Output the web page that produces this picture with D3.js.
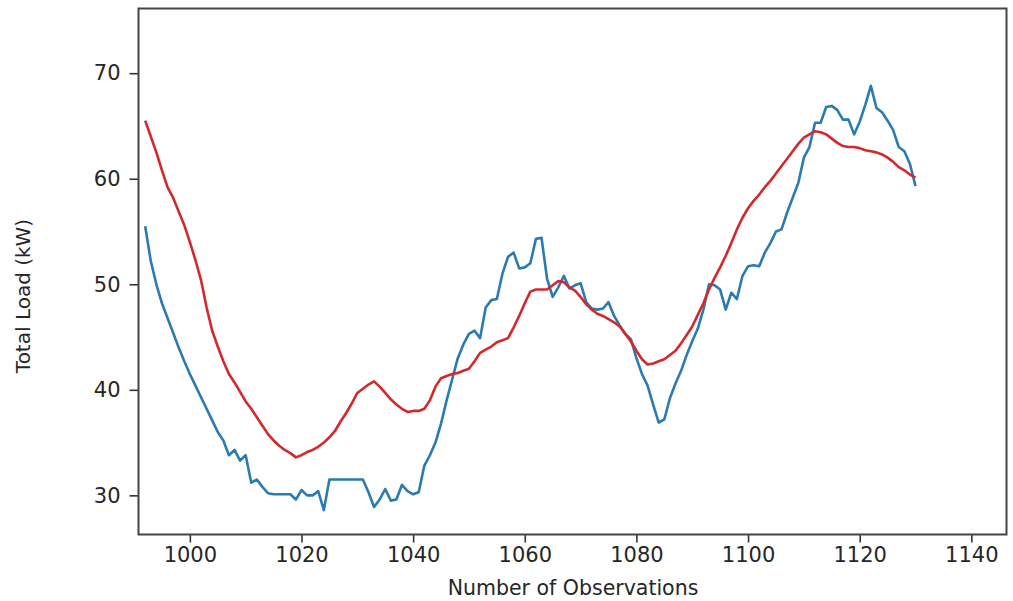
<!DOCTYPE html>
<html>
<head>
<meta charset="utf-8">
<script src="https://cdn.jsdelivr.net/npm/d3@7"></script>
<style>
  html, body { margin: 0; padding: 0; background: #fff; }
  svg text { font-family: "DejaVu Sans", sans-serif; fill: #262626; }
</style>
</head>
<body>
<svg id="chart" width="1013" height="601"></svg>
<script>
// ---- data ----
const xStart = 992;
const actualLoad = [
  55.5, 52.2, 50.0, 48.2, 46.8, 45.4, 44.0, 42.7,            // 992-999
  41.5, 40.4, 39.3, 38.2, 37.1, 36.0, 35.2, 33.8, 34.3, 33.3, // 1000-1009
  33.8, 31.2, 31.5, 30.8, 30.2, 30.1, 30.1, 30.1, 30.1, 29.6, // 1010-1019
  30.5, 30.0, 30.0, 30.4, 28.6, 31.5, 31.5, 31.5, 31.5, 31.5, // 1020-1029
  31.5, 31.5, 30.3, 28.9, 29.6, 30.6, 29.5, 29.6, 31.0, 30.4, // 1030-1039
  30.1, 30.3, 32.8, 33.8, 35.0, 36.8, 39.0, 41.0, 43.0, 44.3, // 1040-1049
  45.3, 45.6, 44.9, 47.8, 48.5, 48.6, 51.0, 52.6, 53.0, 51.5, // 1050-1059
  51.6, 52.0, 54.3, 54.4, 50.5, 48.8, 49.7, 50.8, 49.6, 49.9, // 1060-1069
  50.1, 48.3, 47.7, 47.6, 47.7, 48.3, 47.0, 46.1, 45.3, 44.8, // 1070-1079
  43.0, 41.5, 40.4, 38.6, 36.9, 37.2, 39.2, 40.6, 41.8, 43.3, // 1080-1089
  44.6, 45.8, 47.6, 50.0, 49.9, 49.5, 47.6, 49.2, 48.6, 50.8, // 1090-1099
  51.7, 51.8, 51.7, 53.0, 53.9, 55.0, 55.2, 56.8, 58.2, 59.6, // 1100-1109
  62.0, 63.0, 65.3, 65.3, 66.8, 66.9, 66.5, 65.6, 65.6, 64.2, // 1110-1119
  65.4, 67.0, 68.8, 66.7, 66.3, 65.5, 64.6, 63.0, 62.6, 61.4, // 1120-1129
  59.3                                                        // 1130
];
const predictedLoad = [
  65.5, 64.0, 62.5, 60.8, 59.2, 58.2, 56.9, 55.6,            // 992-999
  54.0, 52.3, 50.4, 47.8, 45.6, 44.1, 42.7, 41.5, 40.7, 39.8, // 1000-1009
  38.9, 38.2, 37.4, 36.6, 35.8, 35.2, 34.7, 34.3, 34.0, 33.6, // 1010-1019
  33.8, 34.1, 34.3, 34.6, 35.0, 35.5, 36.1, 37.0, 37.8, 38.7, // 1020-1029
  39.7, 40.1, 40.5, 40.8, 40.3, 39.7, 39.1, 38.6, 38.2, 37.9, // 1030-1039
  38.0, 38.0, 38.2, 39.0, 40.3, 41.1, 41.3, 41.5, 41.6, 41.8, // 1040-1049
  42.0, 42.7, 43.5, 43.8, 44.1, 44.5, 44.7, 44.9, 45.9, 47.0, // 1050-1059
  48.2, 49.3, 49.5, 49.5, 49.5, 49.9, 50.3, 50.2, 49.7, 49.4, // 1060-1069
  48.8, 48.1, 47.6, 47.2, 47.0, 46.7, 46.4, 46.0, 45.3, 44.6, // 1070-1079
  43.7, 42.9, 42.4, 42.5, 42.7, 42.9, 43.3, 43.7, 44.4, 45.2, // 1080-1089
  46.0, 47.1, 48.2, 49.5, 50.6, 51.6, 52.7, 53.9, 55.2, 56.3, // 1090-1099
  57.2, 57.9, 58.5, 59.2, 59.8, 60.5, 61.2, 61.9, 62.6, 63.3, // 1100-1109
  63.9, 64.2, 64.5, 64.4, 64.2, 63.8, 63.4, 63.1, 63.0, 63.0, // 1110-1119
  62.9, 62.7, 62.6, 62.5, 62.3, 62.0, 61.6, 61.1, 60.8, 60.4, // 1120-1129
  60.1                                                        // 1130
];
const xTicks = [1000, 1020, 1040, 1060, 1080, 1100, 1120, 1140];
const yTicks = [30, 40, 50, 60, 70];
const xLabel = "Number of Observations";
const yLabel = "Total Load (kW)";

// ---- layout ----
const svg = d3.select("#chart");
const mLeft = 138.5, mRight = 1006.5, mTop = 8.5, mBottom = 534.5;

const x = d3.scaleLinear().domain([990.8, 1146.3]).range([mLeft, mRight]);
const y = d3.scaleLinear().domain([26.29, 76.13]).range([mBottom, mTop]);

const xAxis = d3.axisBottom(x).tickValues(xTicks).tickFormat(d3.format("d")).tickSize(8).tickPadding(5);
const yAxis = d3.axisLeft(y).tickValues(yTicks).tickFormat(d3.format("d")).tickSize(9).tickPadding(9);

const gx = svg.append("g").attr("transform", `translate(0,${mBottom})`).call(xAxis);
const gy = svg.append("g").attr("transform", `translate(${mLeft},0)`).call(yAxis);
[gx, gy].forEach(g => {
  g.select(".domain").remove();
  g.selectAll(".tick line").attr("stroke", "#333").attr("stroke-width", 1.6);
  g.selectAll(".tick text").attr("font-size", 21).attr("fill", "#262626")
    .style("font-family", "'DejaVu Sans', sans-serif");
});

const line = d3.line().x((d, i) => x(xStart + i)).y(d => y(d));

const plot = svg.append("g");
plot.append("path").datum(actualLoad)
  .attr("d", line).attr("fill", "none")
  .attr("stroke", "#2b7ab2").attr("stroke-width", 2.6).attr("stroke-linejoin", "round");
plot.append("path").datum(predictedLoad)
  .attr("d", line).attr("fill", "none")
  .attr("stroke", "#d3292c").attr("stroke-width", 2.6).attr("stroke-linejoin", "round");

// frame
svg.append("rect").attr("x", mLeft).attr("y", mTop)
  .attr("width", mRight - mLeft).attr("height", mBottom - mTop)
  .attr("fill", "none").attr("stroke", "#444").attr("stroke-width", 2);

svg.append("text").attr("x", 573).attr("y", 595).attr("text-anchor", "middle")
  .attr("font-size", 20.5).text(xLabel);
svg.append("text").attr("transform", "translate(30,296) rotate(-90)")
  .attr("text-anchor", "middle").attr("font-size", 20).text(yLabel);
</script>
</body>
</html>
